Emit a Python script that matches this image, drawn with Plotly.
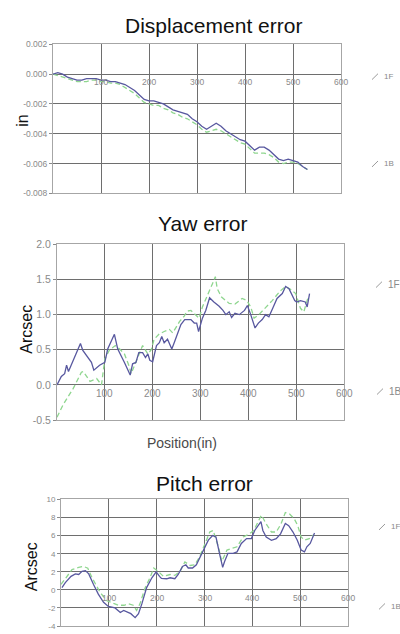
import plotly.graph_objects as go

# ---------------- data ----------------
disp_x = [0, 10, 20, 30, 40, 50, 60, 70, 80, 90, 100, 110, 120, 130, 140, 150, 160, 170, 180, 190,
          200, 210, 220, 230, 240, 250, 260, 270, 280, 290, 300, 310, 320, 330, 340, 350, 360, 370,
          380, 390, 400, 410, 420, 430, 440, 450, 460, 470, 480, 490, 500, 510, 520, 530]
disp_1f = [0.0, 0.0001, 0.0, -0.0002, -0.0003, -0.0004, -0.0004, -0.0003, -0.0003, -0.0003, -0.0004,
           -0.0004, -0.0005, -0.0005, -0.0006, -0.0007, -0.0009, -0.0011, -0.0014, -0.0017, -0.0018,
           -0.0018, -0.0019, -0.0020, -0.0022, -0.0024, -0.0025, -0.0026, -0.0027, -0.0030, -0.0032,
           -0.0035, -0.0037, -0.0035, -0.0033, -0.0035, -0.0038, -0.0040, -0.0042, -0.0044, -0.0045,
           -0.0048, -0.0051, -0.0049, -0.0049, -0.0051, -0.0054, -0.0057, -0.0058, -0.0057, -0.0058,
           -0.0059, -0.0062, -0.0064]
disp_1b = [0.0, -0.0001, -0.0002, -0.0003, -0.0004, -0.0005, -0.0005, -0.0005, -0.0004, -0.0004, -0.0005,
           -0.0005, -0.0006, -0.0006, -0.0007, -0.0009, -0.0011, -0.0013, -0.0016, -0.0019, -0.0020,
           -0.0021, -0.0021, -0.0023, -0.0024, -0.0026, -0.0027, -0.0029, -0.0030, -0.0032, -0.0034,
           -0.0037, -0.0039, -0.0038, -0.0037, -0.0038, -0.0040, -0.0042, -0.0044, -0.0046, -0.0047,
           -0.0050, -0.0053, -0.0053, -0.0053, -0.0054, -0.0056, -0.0059, -0.0060, -0.0059, -0.0059,
           -0.0060, -0.0062, -0.0064]

yaw_1f_x = [0, 9, 16, 20, 24, 37, 42, 49, 54, 62, 72, 77, 89, 100, 106, 120, 127, 141, 153, 158, 165,
            171, 179, 185, 190, 194, 200, 208, 214, 219, 224, 231, 240, 245, 252, 259, 267, 280, 287,
            292, 296, 304, 311, 319, 328, 339, 347, 353, 360, 365, 372, 381, 392, 398, 405, 414, 421,
            429, 436, 443, 451, 460, 471, 478, 485, 492, 497, 501, 509, 519, 523, 528]
yaw_1f = [0.0, 0.12, 0.16, 0.28, 0.19, 0.39, 0.49, 0.59, 0.49, 0.42, 0.32, 0.21, 0.28, 0.32, 0.51, 0.72,
          0.51, 0.32, 0.14, 0.30, 0.32, 0.46, 0.46, 0.39, 0.44, 0.35, 0.33, 0.56, 0.60, 0.69, 0.60, 0.65,
          0.51, 0.60, 0.74, 0.86, 0.93, 0.93, 0.88, 0.88, 0.76, 0.95, 1.06, 1.24, 1.18, 1.12, 1.06, 1.00,
          1.04, 0.96, 1.02, 1.00, 1.06, 1.13, 1.00, 0.81, 0.88, 0.93, 1.00, 0.97, 1.09, 1.23, 1.30, 1.40,
          1.37, 1.27, 1.20, 1.18, 1.20, 1.18, 1.11, 1.30]
yaw_1b_x = [0, 13, 34, 51, 55, 69, 83, 93, 100, 110, 122, 131, 141, 150, 155, 162, 170, 179, 190, 197,
            203, 213, 224, 235, 242, 249, 256, 266, 272, 280, 290, 297, 304, 315, 325, 331, 335, 344,
            360, 372, 387, 397, 405, 412, 422, 436, 450, 467, 478, 488, 499, 509, 516, 525]
yaw_1b = [-0.46, -0.28, -0.05, 0.18, 0.19, 0.05, 0.09, 0.0, 0.37, 0.50, 0.56, 0.51, 0.44, 0.28, 0.16,
          0.27, 0.40, 0.56, 0.44, 0.50, 0.65, 0.72, 0.76, 0.79, 0.74, 0.83, 0.90, 0.98, 1.05, 1.06, 1.00,
          0.95, 1.11, 1.27, 1.44, 1.54, 1.37, 1.25, 1.16, 1.15, 1.23, 1.20, 1.11, 0.95, 1.00, 1.10, 1.20,
          1.34, 1.40, 1.36, 1.30, 1.09, 1.04, 1.25]

pitch_1f_x = [2, 9, 21, 30, 37, 44, 51, 58, 68, 78, 89, 99, 113, 124, 131, 137, 146, 155, 162, 169, 179,
              190, 199, 206, 210, 221, 228, 238, 245, 254, 261, 266, 275, 283, 290, 297, 308, 317, 324,
              332, 338, 342, 349, 360, 368, 377, 388, 398, 405, 418, 422, 429, 440, 450, 459, 469, 476,
              485, 494, 502, 509, 514, 521, 530]
pitch_1f = [0.25, 0.8, 1.5, 1.77, 1.7, 2.06, 2.13, 1.77, 0.6, -0.47, -1.37, -1.84, -2.0, -2.5, -2.27,
            -2.45, -2.63, -3.07, -2.63, -1.55, 0.25, 1.34, 2.0, 1.5, 1.26, 1.23, 1.34, 1.23, 1.7, 2.6,
            2.78, 2.42, 2.42, 2.78, 3.5, 4.2, 5.5, 6.0, 5.85, 3.86, 2.5, 3.14, 4.04, 4.04, 4.2, 5.13, 5.67,
            5.67, 6.57, 7.55, 6.57, 5.85, 5.49, 5.67, 6.2, 7.35, 7.1, 6.4, 5.5, 4.4, 4.2, 4.77, 5.13, 6.3]
pitch_1b_x = [0, 12, 23, 37, 47, 56, 65, 82, 96, 110, 120, 132, 141, 151, 158, 165, 176, 186, 194, 203,
              214, 228, 238, 249, 259, 270, 280, 290, 301, 311, 318, 329, 336, 347, 357, 368, 381, 394,
              403, 412, 419, 429, 440, 450, 460, 469, 478, 488, 495, 502, 509, 519, 528]
pitch_1b = [0.6, 1.5, 2.24, 2.5, 2.6, 2.4, 1.34, -0.3, -1.2, -1.5, -1.7, -1.7, -1.55, -1.7, -2.27, -1.55,
            0.25, 1.34, 2.42, 2.06, 1.5, 1.7, 1.6, 2.06, 3.1, 2.7, 2.78, 3.68, 5.1, 6.4, 6.57, 4.77, 3.14,
            4.4, 4.6, 4.77, 5.85, 6.2, 6.57, 7.47, 8.27, 7.3, 6.4, 6.4, 7.3, 8.56, 8.4, 7.83, 7.1, 5.85,
            5.5, 5.67, 6.1]

x_tickvals = [100, 200, 300, 400, 500, 600]
x_ticktext = ["100", "200", "300", "400", "500", "600"]
disp_tickvals = [0.002, 0.0, -0.002, -0.004, -0.006, -0.008]
disp_ticktext = ["0.002", "0.000", "-0.002", "-0.004", "-0.006", "-0.008"]
yaw_tickvals = [2.0, 1.5, 1.0, 0.5, 0.0, -0.5]
yaw_ticktext = ["2.0", "1.5", "1.0", "0.5", "0.0", "-0.5"]
pitch_tickvals = [10, 8, 6, 4, 2, 0, -2, -4]
pitch_ticktext = ["10", "8", "6", "4", "2", "0", "-2", "-4"]

# ---------------- layout helpers ----------------
W, H = 400, 634
FONT = "Liberation Sans, Arial, sans-serif"
BLUE = "#58589f"
GREEN = "#8fd68f"
GRID = "#6e6e6e"
BORDER = "#a6a6a6"
TICKC = "#8a8a8a"


def fx(p):
    return p / W


def fy(p):
    return 1 - p / H


fig = go.Figure()

panels = [
    ("", (disp_x, disp_1f), (disp_x, disp_1b), 53, 341, 39, 191, [-0.008, 0.002],
     disp_tickvals, disp_ticktext, 8.5, 8.5),
    ("2", (yaw_1f_x, yaw_1f), (yaw_1b_x, yaw_1b), 57, 344, 243, 422, [-0.5, 2.0],
     yaw_tickvals, yaw_ticktext, 10.5, 10),
    ("3", (pitch_1f_x, pitch_1f), (pitch_1b_x, pitch_1b), 61, 348, 503, 632, [-4, 10],
     pitch_tickvals, pitch_ticktext, 8, 8.5),
]

annotations = []
shapes = []

for suf, f_data, b_data, xl, xr, yt, yb, yr, tv, tt, yfs, xfs in panels:
    xa = "x" + suf
    ya = "y" + suf
    fig.add_trace(go.Scatter(x=b_data[0], y=b_data[1], mode="lines", xaxis=xa, yaxis=ya,
                             line=dict(color=GREEN, width=1.3, dash="5px,3px"), showlegend=False))
    fig.add_trace(go.Scatter(x=f_data[0], y=f_data[1], mode="lines", xaxis=xa, yaxis=ya,
                             line=dict(color=BLUE, width=1.3), showlegend=False))
    fig.update_layout(**{
        "xaxis" + suf: dict(domain=[fx(xl), fx(xr)], range=[0, 600], anchor=ya,
                            tickvals=x_tickvals, showticklabels=False, ticks="",
                            showgrid=True, gridcolor=GRID, gridwidth=1, zeroline=False,
                            showline=True, mirror=True, linecolor=BORDER, linewidth=1),
        "yaxis" + suf: dict(domain=[fy(yb), fy(yt)], range=yr, anchor=xa,
                            tickvals=tv, ticktext=tt, ticks="outside", ticklen=3,
                            tickcolor=TICKC, tickfont=dict(family=FONT, size=yfs, color=TICKC),
                            showgrid=True, gridcolor=GRID, gridwidth=1,
                            zeroline=True, zerolinecolor=GRID, zerolinewidth=1,
                            showline=True, mirror=True, linecolor=BORDER, linewidth=1),
    })
    # x tick labels sit along the zero line
    for v, t in zip(x_tickvals, x_ticktext):
        annotations.append(dict(x=v, y=0, xref=xa, yref=ya, text=t, showarrow=False,
                                xanchor="center", yanchor="top", yshift=-1,
                                font=dict(family=FONT, size=xfs, color=TICKC)))

# titles
for text, cx, cy in [("Displacement error", 213, 20), ("Yaw error", 202, 222), ("Pitch error", 204, 487)]:
    annotations.append(dict(x=fx(cx), y=fy(cy), xref="paper", yref="paper", text=text, showarrow=False,
                            xanchor="center", yanchor="middle", font=dict(family=FONT, size=21, color="#111")))

# y axis titles
for text, cx, cy in [("in", 23, 117), ("Arcsec", 27, 330), ("Arcsec", 31, 572)]:
    annotations.append(dict(x=fx(cx), y=fy(cy), xref="paper", yref="paper", text=text, showarrow=False,
                            textangle=-90, xanchor="center", yanchor="middle",
                            font=dict(family=FONT, size=16, color="#111")))

# x axis title
annotations.append(dict(x=fx(182), y=fy(445), xref="paper", yref="paper", text="Position(in)",
                        showarrow=False, xanchor="center", yanchor="middle",
                        font=dict(family=FONT, size=14, color="#4a4a4a")))

# legend entries (slanted stroke + label), one pair per panel
legend_items = [("1F", 372, 72, 8), ("1B", 372, 161, 8),
                ("1F", 376, 284, 10), ("1B", 377, 393, 10),
                ("1F", 379, 531, 8), ("1B", 379, 612, 8)]
for label, lx, ly, fs in legend_items:
    shapes.append(dict(type="line", xref="paper", yref="paper",
                       x0=fx(lx), y0=fy(ly + 3), x1=fx(lx + 6), y1=fy(ly - 3),
                       line=dict(color="#9a9a9a", width=1)))
    annotations.append(dict(x=fx(lx + 10), y=fy(ly), xref="paper", yref="paper", text=label,
                            showarrow=False, xanchor="left", yanchor="middle",
                            font=dict(family=FONT, size=fs, color="#8a8a8a")))

fig.update_layout(width=W, height=H, autosize=False, margin=dict(l=0, r=0, t=0, b=0),
                  paper_bgcolor="white", plot_bgcolor="white",
                  annotations=annotations, shapes=shapes, showlegend=False)

fig.write_html("out.html", config={"displayModeBar": False},
               post_script="document.body.style.margin='0px';document.body.style.padding='0px';")
